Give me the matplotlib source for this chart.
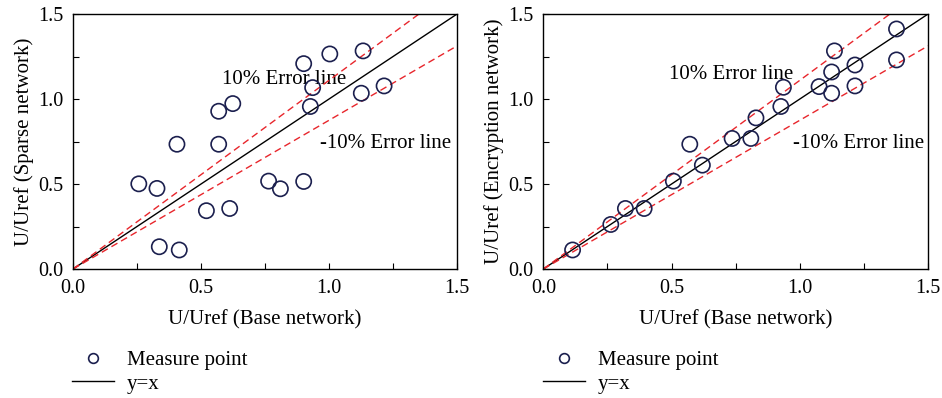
import matplotlib
matplotlib.use("Agg")
import matplotlib.pyplot as plt
import numpy as np
from matplotlib.lines import Line2D
from matplotlib.ticker import MultipleLocator, FuncFormatter

plt.rcParams['font.family'] = ['Liberation Serif', 'DejaVu Serif']

# Left panel: Base vs Sparse network
sparse_x = [0.257, 0.328, 0.337, 0.415, 0.406, 0.521, 0.569, 0.569, 0.624, 0.612,
            0.764, 0.810, 0.901, 0.901, 0.936, 0.927, 1.003, 1.133, 1.126, 1.215]
sparse_y = [0.501, 0.474, 0.131, 0.112, 0.734, 0.343, 0.928, 0.734, 0.973, 0.356,
            0.517, 0.472, 0.515, 1.208, 1.067, 0.956, 1.265, 1.283, 1.034, 1.077]

# Right panel: Base vs Encryption network
enc_x = [0.114, 0.263, 0.320, 0.393, 0.507, 0.571, 0.620, 0.736, 0.809, 0.829,
         0.926, 0.936, 1.075, 1.124, 1.124, 1.135, 1.215, 1.215, 1.377, 1.377]
enc_y = [0.112, 0.262, 0.356, 0.356, 0.517, 0.734, 0.611, 0.768, 0.768, 0.889,
         0.956, 1.069, 1.073, 1.159, 1.034, 1.283, 1.200, 1.077, 1.412, 1.230]

upper_slope = 1.11
lower_slope = 0.875

xlabel = "U/Uref (Base network)"
ylabels = ["U/Uref (Sparse network)", "U/Uref (Encryption network)"]
legend_labels = ["Measure point", "y=x"]
err_labels = ["10% Error line", "-10% Error line"]

marker_color = "#1b1f4e"
red = "#e8262c"

fig = plt.figure(figsize=(9.42, 3.98), dpi=100)
axes = [fig.add_axes([0.0775, 0.3241, 0.4077, 0.6407]),
        fig.add_axes([0.5768, 0.3241, 0.4084, 0.6407])]

datasets = [(sparse_x, sparse_y), (enc_x, enc_y)]
up_text_pos = [(0.58, 1.112), (0.49, 1.142)]
low_text_pos = [(0.966, 0.74), (0.972, 0.74)]

xx = np.linspace(0, 1.5, 200)
for i, ax in enumerate(axes):
    x, y = datasets[i]
    ax.plot(xx, xx, color='black', lw=1.0, zorder=2)
    ax.plot(xx, upper_slope * xx, color=red, lw=1.0, ls=(0, (5, 3)), zorder=2)
    ax.plot(xx, lower_slope * xx, color=red, lw=1.0, ls=(0, (5, 3)), zorder=2)
    ax.scatter(x, y, s=120, facecolors='none', edgecolors=marker_color,
               linewidths=1.2, zorder=3)
    ax.set_xlim(0, 1.5)
    ax.set_ylim(0, 1.5)
    ax.xaxis.set_major_locator(MultipleLocator(0.25))
    ax.yaxis.set_major_locator(MultipleLocator(0.25))
    fmt = FuncFormatter(lambda v, p: f"{v:.1f}" if abs(v / 0.5 - round(v / 0.5)) < 1e-6 else "")
    ax.xaxis.set_major_formatter(fmt)
    ax.yaxis.set_major_formatter(fmt)
    ax.tick_params(direction='in', length=4, width=0.8, labelsize=14.5,
                   top=False, right=False, pad=7)
    for sp in ax.spines.values():
        sp.set_linewidth(1.0)
    ax.set_xlabel(xlabel, fontsize=15, labelpad=9)
    ax.set_ylabel(ylabels[i], fontsize=15, labelpad=3)
    ax.text(up_text_pos[i][0], up_text_pos[i][1], err_labels[0], fontsize=15,
            va='center', ha='left', zorder=1)
    ax.text(low_text_pos[i][0], low_text_pos[i][1], err_labels[1], fontsize=15,
            va='center', ha='left', zorder=1)

    handles = [Line2D([], [], ls='none', marker='o', markersize=7,
                      markerfacecolor='none', markeredgecolor=marker_color,
                      markeredgewidth=1.2),
               Line2D([], [], color='black', lw=1.0)]
    leg_x = 0.0764 if i == 0 else 0.5764
    fig.legend(handles, legend_labels, loc='upper left',
               bbox_to_anchor=(leg_x, 0.12), frameon=False, fontsize=15,
               handlelength=2.0, handletextpad=0.65, labelspacing=0.2,
               borderaxespad=0, borderpad=0)

fig.savefig("out.png", dpi=100)
